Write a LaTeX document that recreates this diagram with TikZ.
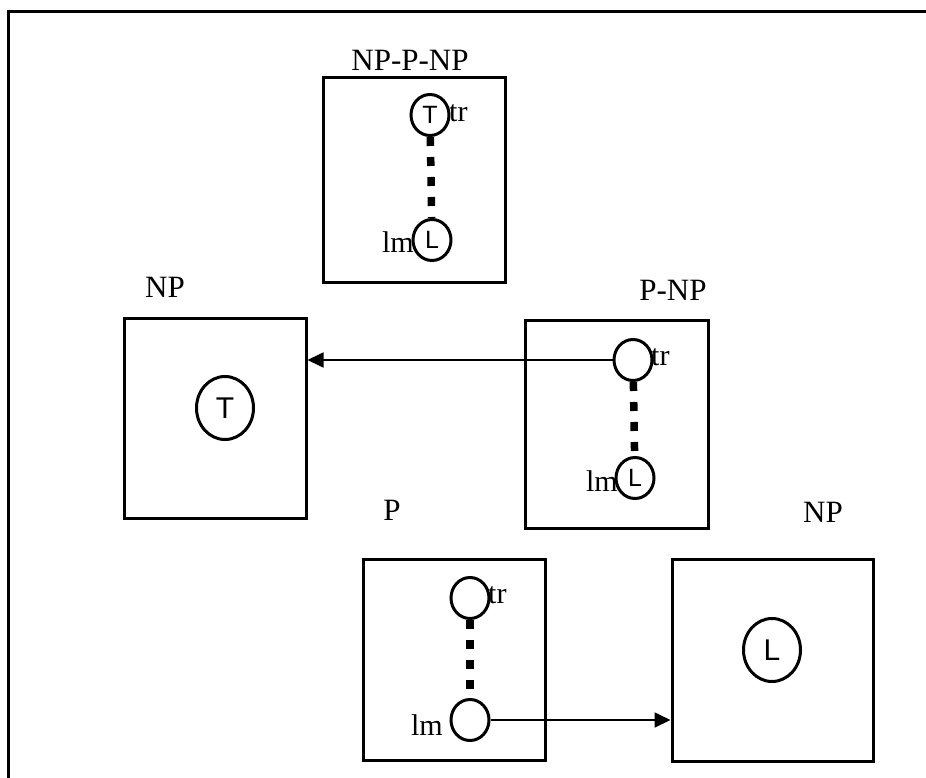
\documentclass[tikz,border=0pt]{standalone}
\usepackage{fontspec}
\setmainfont{Liberation Serif}
\newfontfamily\sansf{Liberation Sans}
\usetikzlibrary{arrows.meta,shapes.geometric}
\begin{document}
\begin{tikzpicture}[x=1pt,y=-1pt,
  box/.style={draw,line width=3pt,rectangle,inner sep=0},
  ttl/.style={font=\fontsize{31}{31}\selectfont,inner sep=0},
  rl/.style={font=\fontsize{30}{30}\selectfont,inner sep=0},
  sc/.style={ellipse,draw,line width=3pt,minimum width=38pt,minimum height=41pt,inner sep=0,font=\sansf\fontsize{25}{25}\selectfont},
  bc/.style={ellipse,draw,line width=3pt,minimum width=57pt,minimum height=63pt,inner sep=0,font=\sansf\fontsize{30}{30}\selectfont},
  link/.style={line width=7.5pt,dash pattern=on 9pt off 11pt},
  arr/.style={line width=1.8pt,-{Triangle[length=16pt,width=15pt]}}
]
\useasboundingbox (0,0) rectangle (926,778);
% outer frame
\draw[line width=3pt] (8,778) -- (8,12) -- (926,12);

% NP-P-NP box
\node[box,minimum width=182pt,minimum height=204pt] (b1) at (414,180) {};
\node[ttl] (t1) at (410,60) {NP-P-NP};
\node[sc] (b1T) at (430,115) {T};
\node[sc] (b1L) at (432,240) {L};
\node[rl,anchor=base west] (b1tr) at (449,122) {tr};
\node[rl,anchor=base east] (b1lm) at (414,252) {lm};
\draw[link] (b1T) -- (b1L);

% NP left box
\node[box,minimum width=182pt,minimum height=200pt] (b2) at (215,418) {};
\node[ttl] (t2) at (165,287) {NP};
\node[bc] (b2T) at (225,408) {T};

% P-NP box
\node[box,minimum width=183pt,minimum height=208pt] (b3) at (616.5,424) {};
\node[ttl] (t3) at (673,290) {P-NP};
\node[sc] (b3T) at (633,360) {};
\node[sc] (b3L) at (635,478) {L};
\node[rl,anchor=base west] (b3tr) at (651,365) {tr};
\node[rl,anchor=base east] (b3lm) at (618,491) {lm};
\draw[link] (b3T) -- (b3L);

% P box
\node[box,minimum width=182pt,minimum height=201pt] (b4) at (454,659.5) {};
\node[ttl] (t4) at (392,510) {P};
\node[sc] (b4T) at (470,598) {};
\node[sc] (b4L) at (470,720) {};
\node[rl,anchor=base west] (b4tr) at (488,603) {tr};
\node[rl,anchor=base east] (b4lm) at (443,735) {lm};
\draw[link] (b4T) -- (b4L);

% NP right box
\node[box,minimum width=201pt,minimum height=202pt] (b5) at (772.5,660) {};
\node[ttl] (t5) at (823,512) {NP};
\node[bc] (b5L) at (772,650) {L};

% arrows
\draw[arr] (b3T.west) -- (b3T.west -| b2.east);
\draw[arr] (b4L.east) -- (b4L.east -| b5.west);
\end{tikzpicture}
\end{document}
